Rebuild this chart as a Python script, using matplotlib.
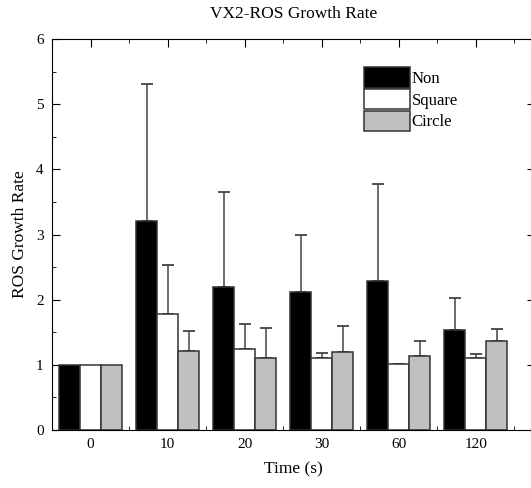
import numpy as np
import matplotlib.pyplot as plt
from matplotlib.ticker import MultipleLocator

times = ["0", "10", "20", "30", "60", "120"]
non = [1.0, 3.21, 2.20, 2.12, 2.28, 1.54]
non_err = [0.0, 2.10, 1.45, 0.87, 1.50, 0.49]
square = [1.0, 1.78, 1.25, 1.10, 1.01, 1.10]
square_err = [0.0, 0.75, 0.38, 0.08, 0.01, 0.07]
circle = [1.0, 1.21, 1.10, 1.20, 1.13, 1.37]
circle_err = [0.0, 0.31, 0.46, 0.40, 0.24, 0.18]

plt.rcParams['font.family'] = ['Liberation Serif', 'DejaVu Serif']

fig = plt.figure(figsize=(5.31, 4.88), dpi=100)
ax = fig.add_axes([52 / 531, 58 / 488, 483 / 531, 391 / 488])

x = np.arange(len(times))
w = 0.272
edge = "#333333"

series = [(non, non_err, "black", "Non"),
          (square, square_err, "white", "Square"),
          (circle, circle_err, "#c0c0c0", "Circle")]
for i, (vals, errs, col, lab) in enumerate(series):
    pos = x + (i - 1) * w
    ax.bar(pos, vals, w, color=col, edgecolor=edge, linewidth=1.1, label=lab, zorder=2)
    vals = np.array(vals)
    errs = np.array(errs)
    m = errs > 0
    ax.errorbar(pos[m], vals[m], yerr=[np.zeros(m.sum()), errs[m]], fmt="none",
                ecolor="#444444", elinewidth=1.1, capsize=4, capthick=1.3, zorder=1)

ax.set_xlim(-0.5, 5.77)
ax.set_ylim(0, 6)
ax.set_xticks(x)
ax.set_xticklabels(times)
ax.xaxis.set_minor_locator(MultipleLocator(0.5))
ax.yaxis.set_major_locator(MultipleLocator(1))
ax.yaxis.set_minor_locator(MultipleLocator(0.5))
ax.tick_params(which="both", direction="in", top=True, right=True, labelsize=11, pad=6)
ax.tick_params(which="major", length=6)
ax.tick_params(which="minor", length=3)

ax.set_title("VX2-ROS Growth Rate", fontsize=12.5, pad=15)
ax.set_xlabel("Time (s)", fontsize=12.5, labelpad=7)
ax.set_ylabel("ROS Growth Rate", fontsize=12.5, labelpad=6)

ax.legend(loc="upper left", bbox_to_anchor=(0.632, 0.945), frameon=False, fontsize=12,
          handlelength=2.75, handleheight=1.5, handletextpad=0.12, labelspacing=0.08,
          borderaxespad=0)

fig.savefig("out.png", dpi=100)
